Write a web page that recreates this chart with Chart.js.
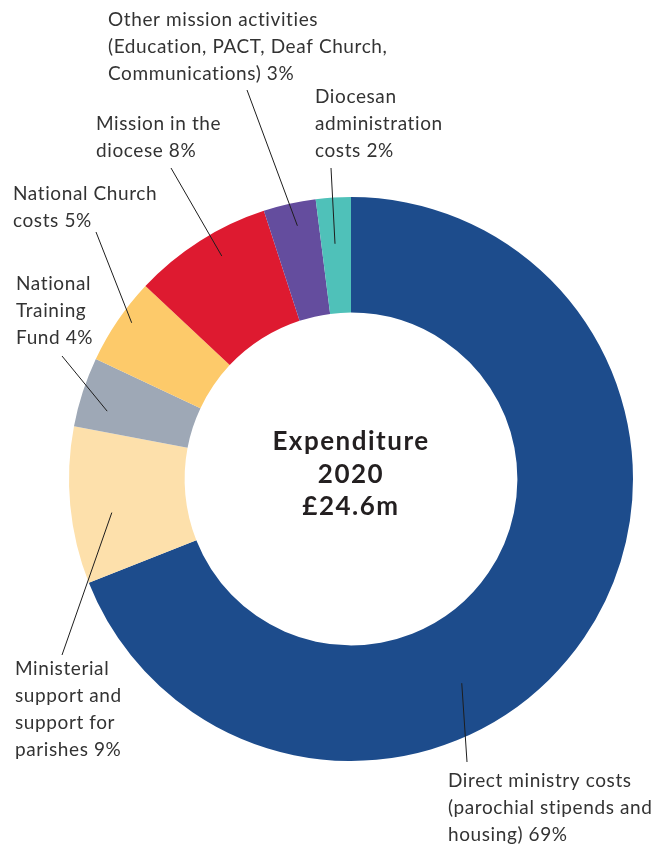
<!DOCTYPE html>
<html>
<head>
<meta charset="utf-8">
<script src="https://cdn.jsdelivr.net/npm/chart.js@4.4.1/dist/chart.umd.min.js"></script>
<style>
  html, body { margin: 0; padding: 0; background: #fff; }
  #wrap { width: 672px; height: 845px; position: relative; }
</style>
</head>
<body>
<div id="wrap"><canvas id="myChart" width="672" height="845"></canvas></div>
<script>
// categories, clockwise from 12 o'clock
const categories = [
    'Direct ministry costs (parochial stipends and housing)',
    'Ministerial support and support for parishes',
    'National Training Fund',
    'National Church costs',
    'Mission in the diocese',
    'Other mission activities (Education, PACT, Deaf Church, Communications)',
    'Diocesan administration costs'
];
const shares = [69, 9, 4, 5, 8, 3, 2];
const colours = ['#1d4c8c', '#fde0ab', '#9ea8b6', '#fdca6a', '#de1a30', '#644d9e', '#4fc1b9'];

const centreLines = ['Expenditure', '2020', '£24.6m'];

// callout text, one entry per slice (same order as above)
const labelLines = [
    ['Direct ministry costs', '(parochial stipends and', 'housing) 69%'],
    ['Ministerial', 'support and', 'support for', 'parishes 9%'],
    ['National', 'Training', 'Fund 4%'],
    ['National Church', 'costs 5%'],
    ['Mission in the', 'diocese 8%'],
    ['Other mission activities', '(Education, PACT, Deaf Church,', 'Communications) 3%'],
    ['Diocesan', 'administration', 'costs 2%']
];

// where each callout sits: text left/first-line y, leader start, and where the leader hits the slice
// (f = fraction along the slice angle, g = fraction across the ring)
const callouts = [
    { x: 448, y: 781, lx: 467, ly: 762, f: 0.61, g: 0.57 },
    { x: 15,  y: 669, lx: 62,  ly: 655, f: 0.42, g: 0.65 },
    { x: 16,  y: 284, lx: 62,  ly: 356, f: 0.33, g: 0.75 },
    { x: 13,  y: 194, lx: 96,  ly: 232, f: 0.57, g: 0.89 },
    { x: 96,  y: 124, lx: 171, ly: 168, f: 0.58, g: 0.79 },
    { x: 108, y: 20,  lx: 247, ly: 90,  f: 0.56, g: 0.80 },
    { x: 315, y: 97,  lx: 331, ly: 168, f: 0.46, g: 0.60 }
];

const calloutPlugin = {
    id: 'callouts',
    afterDatasetsDraw(chart) {
        const ctx = chart.ctx;
        const arcs = chart.getDatasetMeta(0).data;
        ctx.save();
        ctx.strokeStyle = '#1e1e1e';
        ctx.lineWidth = 1;
        arcs.forEach((arc, i) => {
            const c = callouts[i];
            const p = arc.getProps(['x', 'y', 'startAngle', 'endAngle', 'innerRadius', 'outerRadius'], true);
            const a = p.startAngle + c.f * (p.endAngle - p.startAngle);
            const r = p.innerRadius + c.g * (p.outerRadius - p.innerRadius);
            ctx.beginPath();
            ctx.moveTo(c.lx, c.ly);
            ctx.lineTo(p.x + r * Math.cos(a), p.y + r * Math.sin(a));
            ctx.stroke();
        });
        ctx.fillStyle = '#333333';
        ctx.font = '19px Lato';
        ctx.letterSpacing = '0.6px';
        ctx.textAlign = 'left';
        ctx.textBaseline = 'middle';
        labelLines.forEach((lines, i) => {
            lines.forEach((t, k) => ctx.fillText(t, callouts[i].x, callouts[i].y + k * 26.8));
        });
        // centre title
        const cx = arcs[0].x, cy = arcs[0].y;
        ctx.fillStyle = '#231f20';
        ctx.font = 'bold 26px Lato';
        ctx.letterSpacing = '1.5px';
        ctx.textAlign = 'center';
        centreLines.forEach((t, k) => ctx.fillText(t, cx, cy - 37 + k * 32.5));
        ctx.restore();
    }
};

const config = {
    type: 'doughnut',
    data: {
        labels: categories,
        datasets: [{
            data: shares,
            backgroundColor: colours,
            borderWidth: 0
        }]
    },
    options: {
        responsive: false,
        animation: false,
        cutout: '59%',
        layout: {
            padding: { left: 69, right: 39, top: 197, bottom: 84 }
        },
        plugins: {
            legend: { display: false },
            tooltip: { enabled: false }
        }
    },
    plugins: [calloutPlugin]
};

const myChart = new Chart(document.getElementById('myChart'), config);
</script>
</body>
</html>
